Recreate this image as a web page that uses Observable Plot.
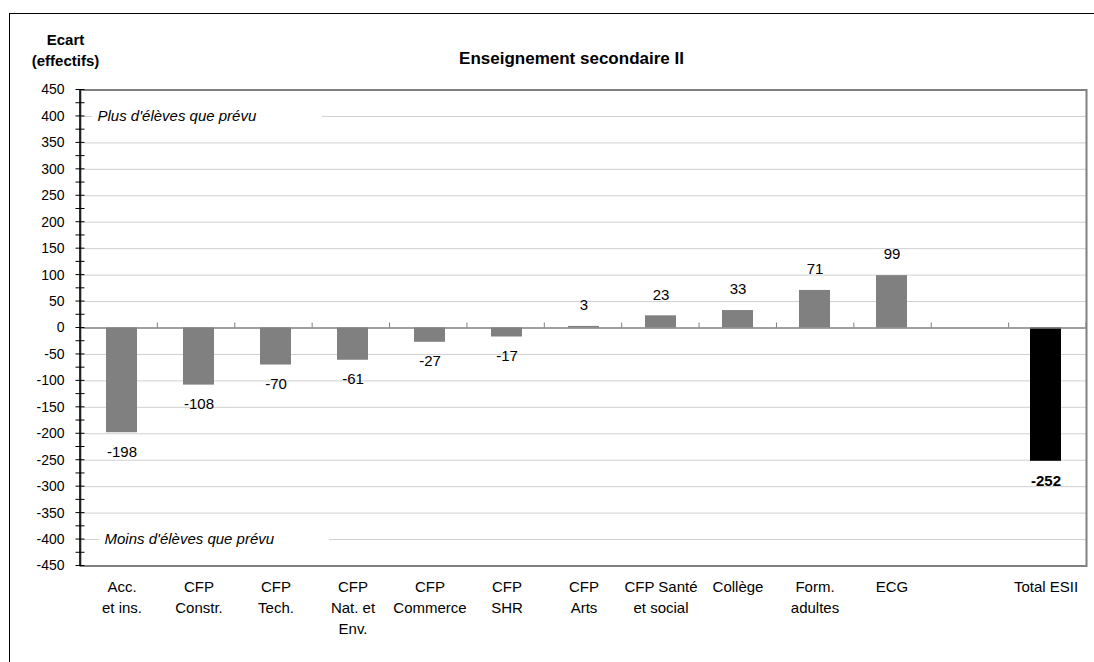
<!DOCTYPE html>
<html><head><meta charset="utf-8">
<script src="https://cdn.jsdelivr.net/npm/d3@7"></script>
<script src="https://cdn.jsdelivr.net/npm/@observablehq/plot@0.6"></script>
<style>
body{margin:0;background:#fff;}
#wrap{position:relative;width:1094px;height:662px;overflow:hidden;background:#fff;}
#wrap svg{position:absolute;left:0;top:0;}
#border{position:absolute;left:9px;top:13px;width:1200px;height:700px;border-left:1px solid #000;border-top:1px solid #000;pointer-events:none;z-index:2;}
</style></head><body><div id="wrap"><div id="border"></div></div>
<script>
const categories = ["Acc.\net ins.", "CFP\nConstr.", "CFP\nTech.", "CFP\nNat. et\nEnv.", "CFP\nCommerce", "CFP\nSHR", "CFP\nArts", "CFP Santé\net social", "Collège", "Form.\nadultes", "ECG", "", "Total ESII"];
const values = [-198, -108, -70, -61, -27, -17, 3, 23, 33, 71, 99, null, -252];
const totalCategory = "Total ESII";
const yTicks = [-450, -400, -350, -300, -250, -200, -150, -100, -50, 0, 50, 100, 150, 200, 250, 300, 350, 400, 450];
const minorTicks = [-425, -375, -325, -275, -225, -175, -125, -75, -25, 25, 75, 125, 175, 225, 275, 325, 375, 425];
const gridTicks = [-400, -350, -300, -250, -200, -150, -100, -50, 50, 100, 150, 200, 250, 300, 350, 400];
const title = "Enseignement secondaire II";
const yLabel = "Ecart\n(effectifs)";
const annotationPlus = ["Plus d'élèves que prévu"];
const annotationMoins = ["Moins d'élèves que prévu"];

const data = categories.map((c, i) => ({cat: c, value: values[i], total: c === totalCategory}));
const bars = data.filter(d => d.value != null);

function boxes(index, scales, vals, dims) {
  const y = scales.y;
  const left = dims.marginLeft;
  const g = d3.create("svg:g");
  [[400, 12], [-400, 19]].forEach(([v, off]) => {
    g.append("rect").attr("x", left + off).attr("y", y(v) - 9).attr("width", 230).attr("height", 18).attr("fill", "#fff");
  });
  return g.node();
}

function decorations(index, scales, vals, dims) {
  const y = scales.y;
  const left = dims.marginLeft, right = dims.width - dims.marginRight;
  const n = categories.length, step = (right - left) / n;
  const g = d3.create("svg:g");
  const y0 = y(0);
  for (let i = 1; i <= n; i++) {
    const xb = left + i * step;
    g.append("line").attr("x1", xb).attr("x2", xb).attr("y1", y0).attr("y2", y0 - 5).attr("stroke", "#808080").attr("stroke-width", 1);
  }
  g.append("line").attr("x1", left).attr("x2", left).attr("y1", y(450)).attr("y2", y(-450)).attr("stroke", "#000").attr("stroke-width", 1.5);
  yTicks.concat(minorTicks).forEach(t => {
    g.append("line").attr("x1", left - 4.5).attr("x2", left + 4.5).attr("y1", y(t)).attr("y2", y(t)).attr("stroke", "#000").attr("stroke-width", 1);
  });
  return g.node();
}

const chart = Plot.plot({
  width: 1094,
  height: 662,
  marginLeft: 80,
  marginRight: 8,
  marginTop: 89.5,
  marginBottom: 96.5,
  style: {fontFamily: "'Liberation Sans', Arial, sans-serif", fontSize: "14px", color: "#000", background: "transparent", overflow: "visible"},
  x: {type: "band", domain: categories, paddingInner: 0.6, paddingOuter: 0.3, axis: null, label: null},
  y: {domain: [-450, 450], axis: null, label: null},
  marks: [
    Plot.ruleY(gridTicks, {stroke: "#d0d0d0", strokeWidth: 1}),
    boxes,
    Plot.frame({stroke: "#808080", strokeWidth: 2}),
    Plot.barY(bars.filter(d => !d.total), {x: "cat", y: "value", fill: "#808080"}),
    Plot.barY(bars.filter(d => d.total), {x: "cat", y: "value", fill: "#000"}),
    Plot.ruleY([0], {stroke: "#808080", strokeWidth: 1.5}),
    decorations,
    Plot.text(bars.filter(d => d.value >= 0), {x: "cat", y: "value", text: d => String(d.value), dy: -21, fontSize: 15}),
    Plot.text(bars.filter(d => d.value < 0 && !d.total), {x: "cat", y: "value", text: d => String(d.value), dy: 19, fontSize: 15}),
    Plot.text(bars.filter(d => d.total), {x: "cat", y: "value", text: d => String(d.value), dy: 20, fontSize: 15, fontWeight: "bold"}),
    Plot.text(annotationPlus, {frameAnchor: "left", y: () => 400, text: d => d, dx: 17, textAnchor: "start", fontStyle: "italic", fontSize: 15}),
    Plot.text(annotationMoins, {frameAnchor: "left", y: () => -400, text: d => d, dx: 24, textAnchor: "start", fontStyle: "italic", fontSize: 15}),
    Plot.axisY(yTicks, {tickSize: 0, tickPadding: 16, tickFormat: d => String(d), fontSize: 14, label: null}),
    Plot.axisX({tickSize: 0, tickPadding: 11, fontSize: 15, lineHeight: 1.4, tickFormat: d => d, label: null}),
    Plot.text([title], {frameAnchor: "top", text: d => d, dy: -38.5, dx: -12, fontWeight: "bold", fontSize: 17}),
    Plot.text([yLabel], {frameAnchor: "top-left", text: d => d, dx: -15, dy: -60, textAnchor: "middle", lineAnchor: "top", lineHeight: 1.4, fontWeight: "bold", fontSize: 15})
  ]
});
document.getElementById("wrap").appendChild(chart);
</script>
</body></html>
